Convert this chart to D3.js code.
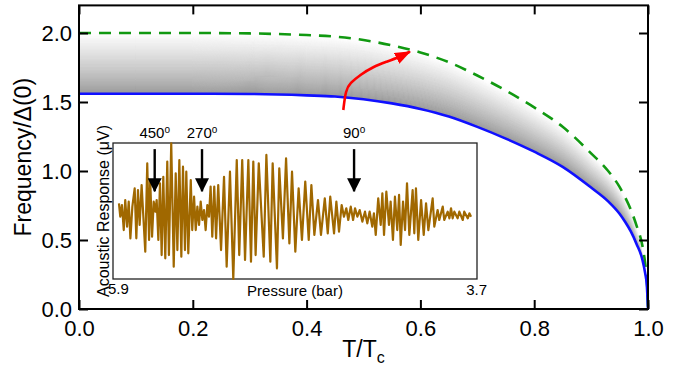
<!DOCTYPE html>
<html>
<head>
<meta charset="utf-8">
<script src="https://cdn.jsdelivr.net/npm/d3@7"></script>
<style>
  body { margin: 0; background: #fff; }
  text { font-family: "Liberation Sans", Arial, Helvetica, sans-serif; fill: #000; }
</style>
</head>
<body>
<svg id="chart" width="688" height="368"></svg>
<script>
// Reduced temperature T/Tc
const tRatio = [0, 0.1, 0.2, 0.3, 0.4, 0.45, 0.5, 0.55, 0.6, 0.65, 0.7, 0.75, 0.8, 0.85, 0.9, 0.93, 0.95, 0.96, 0.97, 0.98, 0.99, 0.995, 0.998, 1];
// Lower mode (blue, solid), in units of Delta(0)
const lowerMode = [1.56, 1.56, 1.56, 1.558, 1.548, 1.54, 1.52, 1.49, 1.45, 1.395, 1.32, 1.235, 1.14, 1.03, 0.88, 0.78, 0.69, 0.63, 0.56, 0.47, 0.36, 0.26, 0.17, 0];
// Pair-breaking edge 2 Delta (green, dashed)
const pairBreaking = [2.0, 2.0, 2.0, 1.997, 1.985, 1.974, 1.949, 1.91, 1.859, 1.788, 1.692, 1.583, 1.461, 1.32, 1.128, 1.0, 0.885, 0.808, 0.718, 0.603, 0.462, 0.333, 0.218, 0];

// Red arrow path (T/Tc, frequency)
const arrowT = [0.4645, 0.4687, 0.4763, 0.4938, 0.5172, 0.5408, 0.5641, 0.5817];
const arrowF = [1.442, 1.587, 1.636, 1.696, 1.756, 1.792, 1.828, 1.865];

const xTicks = [0, 0.2, 0.4, 0.6, 0.8, 1.0];
const yTicks = [0, 0.5, 1.0, 1.5, 2.0];

// Inset: acoustic response vs pressure (relative units)
const pressure = [5.864, 5.856, 5.846, 5.835, 5.826, 5.815, 5.805, 5.795, 5.783, 5.769, 5.759, 5.749, 5.739, 5.727, 5.705, 5.693, 5.682, 5.675, 5.664, 5.654, 5.644, 5.636, 5.626, 5.616, 5.606, 5.596, 5.584, 5.572, 5.562, 5.548, 5.533, 5.521, 5.511, 5.499, 5.487, 5.477, 5.465, 5.457,
  5.445, 5.430, 5.421, 5.410, 5.400, 5.390, 5.380, 5.370, 5.360, 5.350, 5.340, 5.330, 5.320, 5.310, 5.300, 5.288, 5.277, 5.264, 5.247, 5.229, 5.213, 5.193, 5.173, 5.152, 5.137, 5.119, 5.102, 5.082, 5.066, 5.052, 5.038, 5.019,
  4.989, 4.973, 4.949, 4.935, 4.909, 4.895, 4.873, 4.854, 4.834, 4.818, 4.798, 4.778, 4.758, 4.738, 4.717, 4.701, 4.683, 4.661, 4.643, 4.620, 4.602, 4.587,
  4.564, 4.550, 4.534, 4.518, 4.504, 4.490, 4.478, 4.463, 4.449, 4.437, 4.423, 4.409, 4.393, 4.377, 4.363, 4.349, 4.333, 4.323, 4.312, 4.297, 4.282, 4.272, 4.262, 4.248, 4.232, 4.222, 4.208, 4.196, 4.182, 4.171, 4.161, 4.147,
  4.135, 4.123, 4.109, 4.089, 4.079, 4.069, 4.055, 4.038, 4.022, 4.008, 3.994, 3.968, 3.958, 3.938, 3.928, 3.907, 3.898, 3.877, 3.867, 3.857, 3.847, 3.837, 3.817, 3.807, 3.786, 3.777, 3.756, 3.746, 3.736];
const response = [0.556, 0.458, 0.544, 0.360, 0.581, 0.385, 0.569, 0.299, 0.532, 0.667, 0.299, 0.654, 0.397, 0.691, 0.201, 0.850, 0.287, 0.728, 0.311, 0.569, 0.495, 0.581, 0.287, 0.703, 0.176, 0.752, 0.152, 0.863, 0.176, 0.998, 0.091, 0.777, 0.213, 0.875, 0.164, 0.826, 0.213, 0.789,
  0.189, 0.728, 0.360, 0.605, 0.360, 0.532, 0.397, 0.569, 0.434, 0.507, 0.360, 0.544, 0.458, 0.679, 0.311, 0.679, 0.299, 0.691, 0.213, 0.752, 0.091, 0.789, 0.0, 0.875, 0.176, 0.875, 0.140, 0.875, 0.127, 0.863, 0.176, 0.850,
  0.164, 0.912, 0.127, 0.850, 0.078, 0.814, 0.299, 0.887, 0.262, 0.789, 0.201, 0.667, 0.287, 0.716, 0.287, 0.691, 0.324, 0.581, 0.324, 0.593, 0.336, 0.605,
  0.336, 0.569, 0.348, 0.544, 0.458, 0.520, 0.434, 0.532, 0.434, 0.520, 0.458, 0.507, 0.422, 0.495, 0.409, 0.495, 0.385, 0.483, 0.324, 0.593, 0.397, 0.630, 0.324, 0.642, 0.397, 0.569, 0.287, 0.605, 0.360, 0.618, 0.250, 0.569,
  0.360, 0.703, 0.324, 0.654, 0.336, 0.667, 0.287, 0.581, 0.324, 0.556, 0.360, 0.593, 0.385, 0.507, 0.434, 0.532, 0.434, 0.495, 0.446, 0.520, 0.446, 0.495, 0.446, 0.495, 0.434, 0.495, 0.446, 0.483, 0.458];

// Phase markers in the inset
const phaseLabels = ["450", "270", "90"];
const phasePressure = [5.648, 5.362, 4.443];

const svg = d3.select("#chart");

const x = d3.scaleLinear().domain([0, 1]).range([79, 648]);
const y = d3.scaleLinear().domain([0, 2.2]).range([309, 5.4]);

const defs = svg.append("defs");
defs.append("marker")
    .attr("id", "redhead")
    .attr("viewBox", "0 0 16 12")
    .attr("refX", 15).attr("refY", 6)
    .attr("markerWidth", 16).attr("markerHeight", 12)
    .attr("markerUnits", "userSpaceOnUse")
    .attr("orient", "auto")
  .append("path")
    .attr("d", "M0,0 L16,6 L0,12 Z")
    .attr("fill", "#ff0000");
defs.append("marker")
    .attr("id", "blackhead")
    .attr("viewBox", "0 0 14 14")
    .attr("refX", 13).attr("refY", 7)
    .attr("markerWidth", 14).attr("markerHeight", 14)
    .attr("markerUnits", "userSpaceOnUse")
    .attr("orient", "auto")
  .append("path")
    .attr("d", "M0,0 L14,7 L0,14 Z")
    .attr("fill", "#000");

// Shaded band between the two curves, graded from blue side (grey) to green side (white)
const nBands = 60;
const shade = d3.interpolateRgb("#959595", "#ffffff");
for (let k = 0; k < nBands; k++) {
  const f0 = k / nBands, f1 = (k + 1) / nBands;
  const band = d3.area()
      .x((d, i) => x(tRatio[i]))
      .y0((d, i) => y(lowerMode[i] + f0 * (pairBreaking[i] - lowerMode[i])))
      .y1((d, i) => y(lowerMode[i] + f1 * (pairBreaking[i] - lowerMode[i])))
      .curve(d3.curveMonotoneX);
  const c = shade(Math.pow((f0 + f1) / 2, 0.85));
  svg.append("path")
      .datum(tRatio)
      .attr("d", band)
      .attr("fill", c)
      .attr("stroke", c)
      .attr("stroke-width", 0.6);
}

const lineOf = vals => d3.line()
    .x((d, i) => x(tRatio[i]))
    .y((d, i) => y(vals[i]))
    .curve(d3.curveMonotoneX);

svg.append("path")
    .datum(tRatio)
    .attr("d", lineOf(pairBreaking))
    .attr("fill", "none")
    .attr("stroke", "#119911")
    .attr("stroke-width", 2.6)
    .attr("stroke-dasharray", "12,8");

svg.append("path")
    .datum(tRatio)
    .attr("d", lineOf(lowerMode))
    .attr("fill", "none")
    .attr("stroke", "#1010ff")
    .attr("stroke-width", 2.6);

// Red arrow
svg.append("path")
    .datum(arrowT)
    .attr("d", d3.line()
        .x((d, i) => x(arrowT[i]))
        .y((d, i) => y(arrowF[i]))
        .curve(d3.curveBasis))
    .attr("fill", "none")
    .attr("stroke", "#ff0000")
    .attr("stroke-width", 2.6)
    .attr("marker-end", "url(#redhead)");

// Axes with inward ticks on all four sides
const fontAxis = "22px";
const gx = svg.append("g")
    .attr("transform", `translate(0,${y(0)})`)
    .call(d3.axisBottom(x).tickValues(xTicks).tickFormat(d3.format(".1f"))
        .tickSizeInner(-9).tickSizeOuter(0).tickPadding(11));
const gy = svg.append("g")
    .attr("transform", `translate(${x(0)},0)`)
    .call(d3.axisLeft(y).tickValues(yTicks).tickFormat(d3.format(".1f"))
        .tickSizeInner(-9).tickSizeOuter(0).tickPadding(7));
const gt = svg.append("g")
    .attr("transform", `translate(0,${y(2.2)})`)
    .call(d3.axisTop(x).tickValues(xTicks).tickFormat("")
        .tickSizeInner(-9).tickSizeOuter(0));
const gr = svg.append("g")
    .attr("transform", `translate(${x(1)},0)`)
    .call(d3.axisRight(y).tickValues(yTicks).tickFormat("")
        .tickSizeInner(-9).tickSizeOuter(0));
[gx, gy, gt, gr].forEach(g => {
  g.select(".domain").remove();
  g.selectAll("line").attr("stroke", "#000").attr("stroke-width", 2);
  g.selectAll("text").style("font-size", fontAxis)
      .style("font-family", "'Liberation Sans', Arial, sans-serif");
});

svg.append("rect")
    .attr("x", x(0)).attr("y", y(2.2))
    .attr("width", x(1) - x(0)).attr("height", y(0) - y(2.2))
    .attr("fill", "none")
    .attr("stroke", "#000")
    .attr("stroke-width", 2);

// Axis titles
svg.append("text")
    .attr("transform", `translate(31,${(y(0) + y(2.2)) / 2}) rotate(-90)`)
    .attr("text-anchor", "middle")
    .style("font-size", "23px")
    .text("Frequency/\u0394(0)");

const xt = svg.append("text")
    .attr("x", x(0.5)).attr("y", 357)
    .attr("text-anchor", "middle")
    .style("font-size", "23px");
xt.append("tspan").text("T/T");
xt.append("tspan").attr("dy", 6).style("font-size", "16px").text("c");

// ---- Inset ----
const ix = d3.scaleLinear().domain([5.9, 3.7]).range([113, 477]);
const iy = d3.scaleLinear().domain([0, 1]).range([279, 143]);

svg.append("rect")
    .attr("x", 113).attr("y", 143)
    .attr("width", 364).attr("height", 136)
    .attr("fill", "#fff")
    .attr("stroke", "#222")
    .attr("stroke-width", 1.3);

svg.append("path")
    .datum(pressure)
    .attr("d", d3.line()
        .x((d, i) => ix(pressure[i]))
        .y((d, i) => iy(response[i])))
    .attr("fill", "none")
    .attr("stroke", "#a06800")
    .attr("stroke-width", 2.2)
    .attr("stroke-linejoin", "round");

// Phase arrows and labels (degree mark drawn as a raised small "o")
phasePressure.forEach((p, i) => {
  svg.append("line")
      .attr("x1", ix(p)).attr("x2", ix(p))
      .attr("y1", iy(0.955)).attr("y2", iy(0.645))
      .attr("stroke", "#000")
      .attr("stroke-width", 2.4)
      .attr("marker-end", "url(#blackhead)");
  const lbl = svg.append("text")
      .attr("x", ix(p)).attr("y", 138)
      .attr("text-anchor", "middle")
      .style("font-size", "15px");
  lbl.append("tspan").text(phaseLabels[i]);
  lbl.append("tspan").attr("dy", -5).style("font-size", "10px").text("o");
});

svg.append("text")
    .attr("x", 108).attr("y", 294)
    .style("font-size", "15px")
    .text("5.9");
svg.append("text")
    .attr("x", 487).attr("y", 295)
    .attr("text-anchor", "end")
    .style("font-size", "15px")
    .text("3.7");
svg.append("text")
    .attr("x", 295).attr("y", 296)
    .attr("text-anchor", "middle")
    .style("font-size", "15px")
    .text("Pressure (bar)");
svg.append("text")
    .attr("transform", "translate(109,211) rotate(-90)")
    .attr("text-anchor", "middle")
    .style("font-size", "16px")
    .text("Acoustic Response (\u03BCV)");
</script>
</body>
</html>
